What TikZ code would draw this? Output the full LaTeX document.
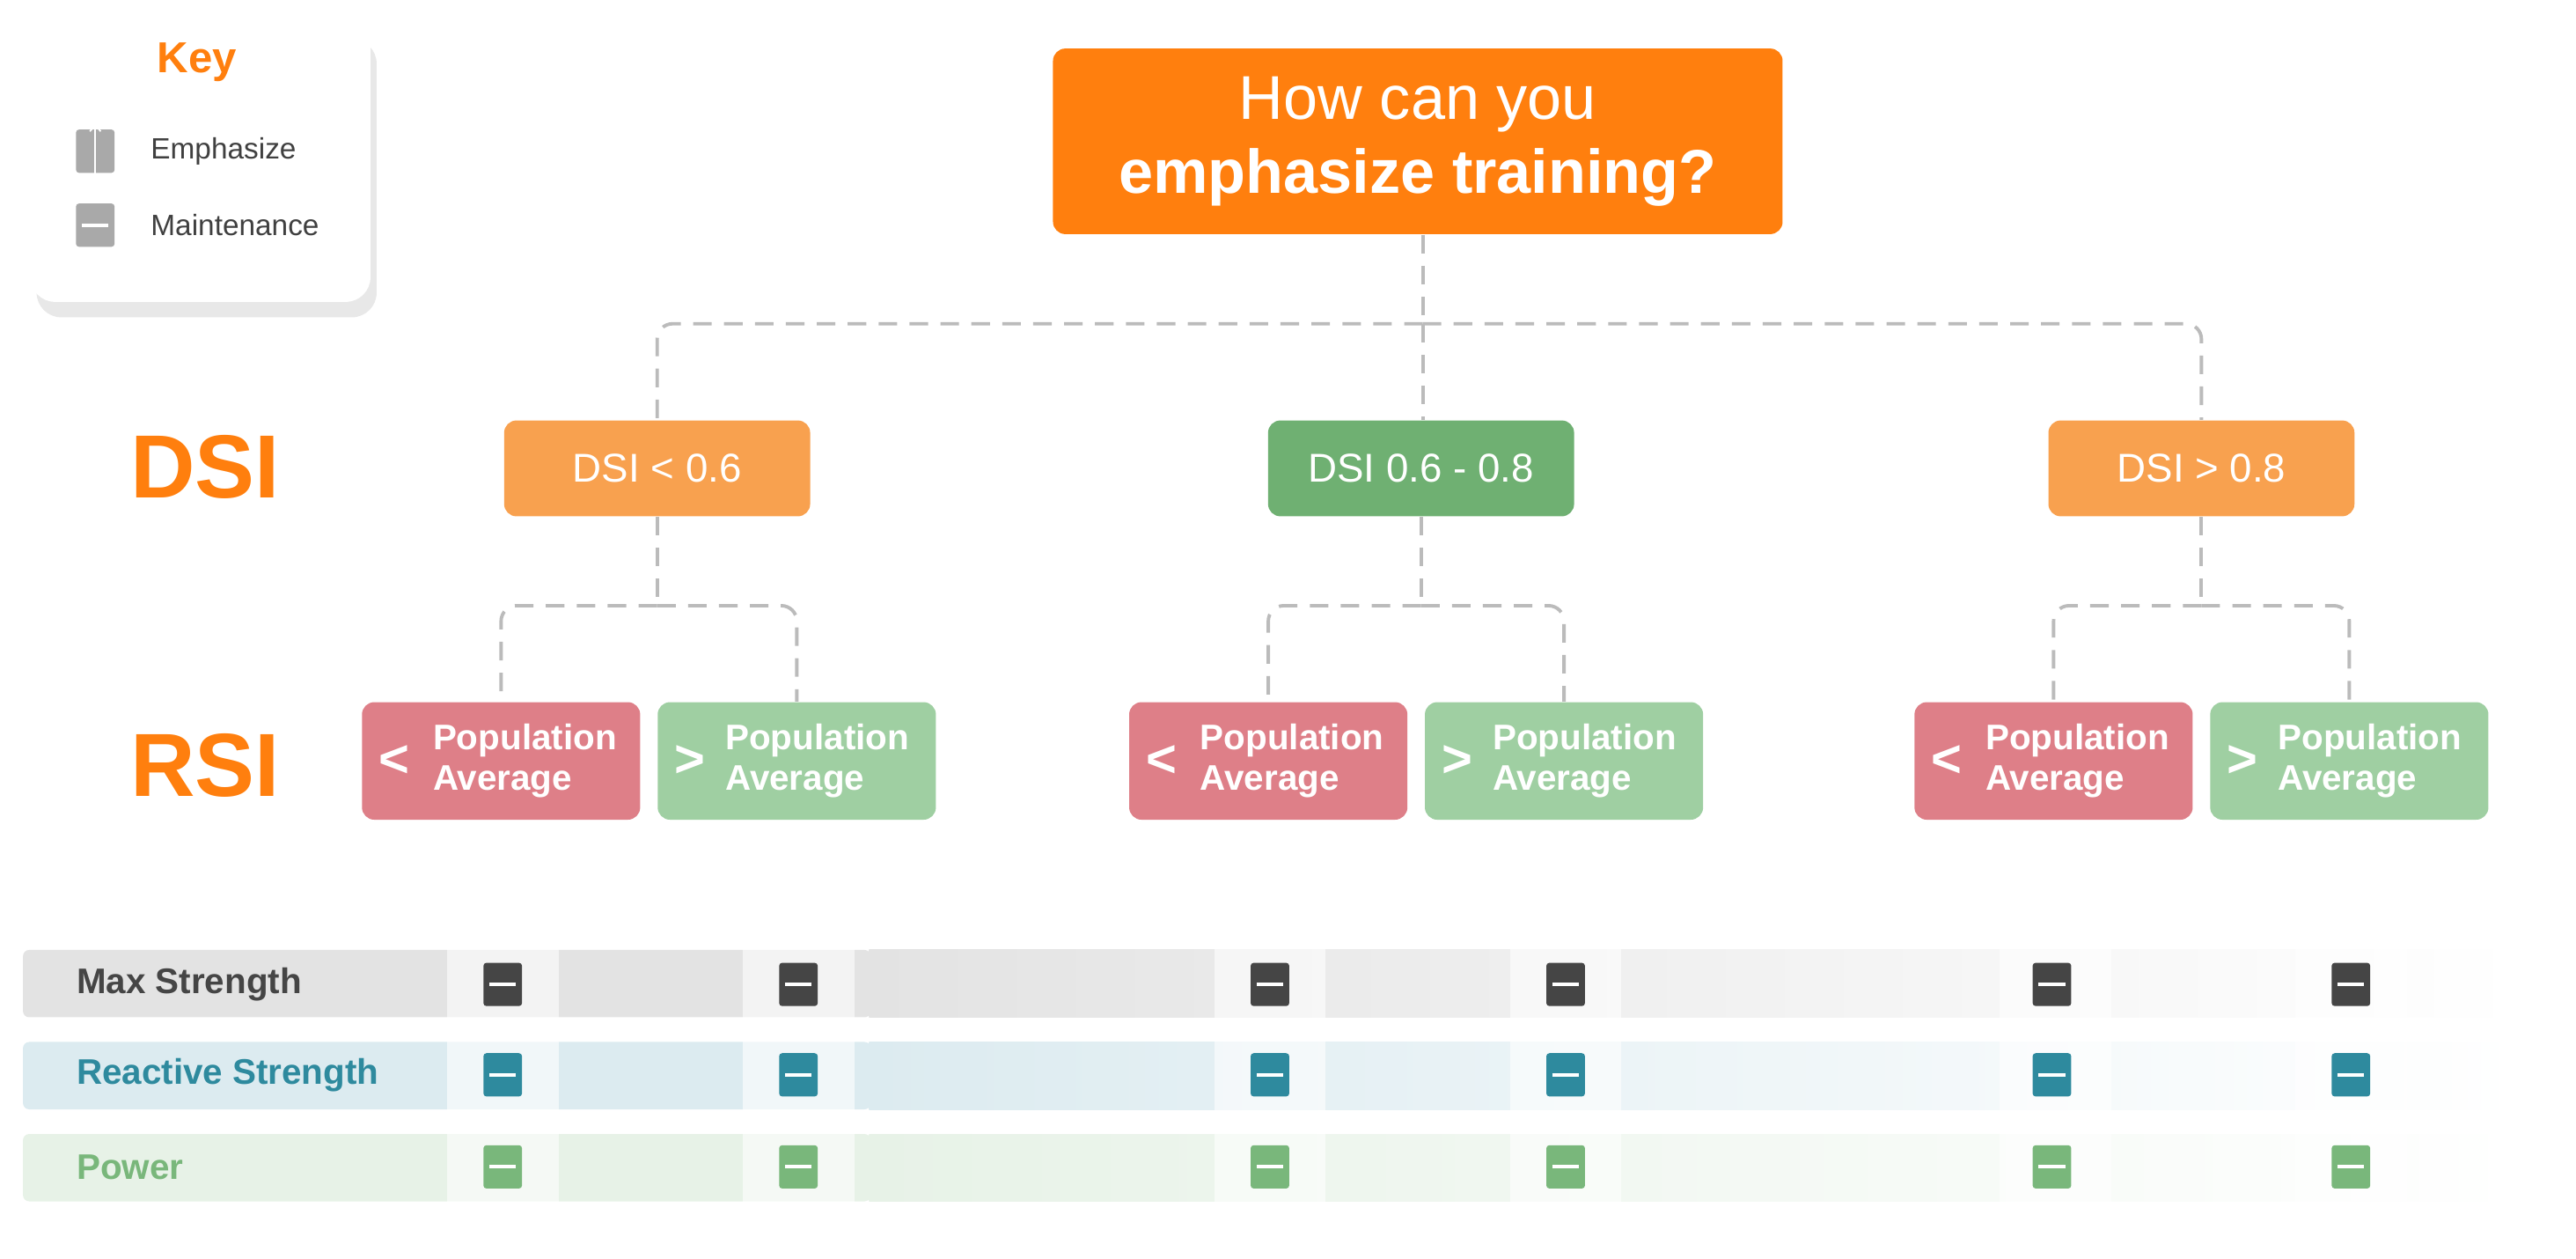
\documentclass[tikz,border=0pt]{standalone}
\usepackage{fontspec}
\setmainfont{Liberation Sans}
\usetikzlibrary{arrows.meta, positioning, shadows, calc}
\definecolor{topor}{HTML}{FF7F0E}
\definecolor{dsior}{HTML}{F8A14F}
\definecolor{dsigr}{HTML}{6FB072}
\definecolor{rsird}{HTML}{DE7F88}
\definecolor{rsigr}{HTML}{9FCFA2}
\definecolor{dashgr}{HTML}{BBBBBB}
\definecolor{icodark}{HTML}{454545}
\definecolor{icoteal}{HTML}{2E8A9E}
\definecolor{icogreen}{HTML}{79B77B}
\definecolor{icokey}{HTML}{A9A9A9}
\definecolor{rowgray}{HTML}{E3E3E3}
\definecolor{rowblue}{HTML}{DCEBF0}
\definecolor{rowgreen}{HTML}{E7F2E7}
\tikzset{%
	dsibox/.style={
		rounded corners=4pt,
		minimum width=99pt,
		minimum height=31pt,
		text=white,
		font=\fontsize{13}{15}\selectfont
	},
	rsibox/.style={
		rounded corners=4pt,
		minimum width=90pt,
		minimum height=38pt,
		text=white
	},
	linkdash/.style={
		draw=dashgr,
		line width=1.1pt,
		dash pattern=on 6pt off 4pt,
		rounded corners=5pt
	},
	icobox/.style={
		rounded corners=1pt,
		minimum width=12.5pt,
		minimum height=14pt,
		inner sep=0pt
	},
	rowlabel/.style={
		anchor=west,
		font=\fontsize{11.5}{13}\selectfont\bfseries
	},
}
% icon: name, x, y, colour, up or dash
\newcommand{\markicon}[5]{%
	\node[icobox, fill=#4] (#1) at (#2,#3) {};
	\ifx#5u
		\draw[white, line width=0.5pt, -{Straight Barb[length=2pt,width=3.5pt]}] ($(#1.south)+(0,3)$) -- ($(#1.north)+(0,-3)$);
	\else
		\draw[white, line width=1.2pt] ($(#1.west)+(4,0)$) -- ($(#1.east)+(-4,0)$);
	\fi
}
% RSI pair: prefix, x of red centre, x of green centre
\newcommand{\rsipair}[3]{%
	\node[rsibox, fill=rsird] (#1lo) at (#2,463) {};
	\node[text=white, font=\fontsize{17}{17}\selectfont\bfseries, anchor=west] at ($(#1lo.west)+(4,0)$) {<};
	\node[text=white, font=\fontsize{11.5}{13}\selectfont\bfseries, align=left, anchor=west] at ($(#1lo.west)+(37,0)$) {Population\\Average};
	\node[rsibox, fill=rsigr] (#1hi) at (#3,463) {};
	\node[text=white, font=\fontsize{17}{17}\selectfont\bfseries, anchor=west] at ($(#1hi.west)+(4,0)$) {>};
	\node[text=white, font=\fontsize{11.5}{13}\selectfont\bfseries, align=left, anchor=west] at ($(#1hi.west)+(35,0)$) {Population\\Average};
}

\begin{document}
\begin{tikzpicture}[x=0.01867cm, y=-0.01867cm]
	\useasboundingbox (0,0) rectangle (1568,766);

	% key
	\node[draw=none, fill=white, rounded corners=8pt, minimum width=110pt, minimum height=90pt,
		drop shadow={opacity=0.18, shadow xshift=2pt, shadow yshift=-5pt}] (keybox) at (122,99) {};
	\node[text=topor, font=\fontsize{14}{16}\selectfont\bfseries] (keytitle) at (120,38) {Key};
	\markicon{keyup}{58}{92}{icokey}{u}
	\markicon{keydash}{58}{137}{icokey}{d}
	\node[right=8pt of keyup, text=black!75, font=\fontsize{9.5}{11}\selectfont] {Emphasize};
	\node[right=8pt of keydash, text=black!75, font=\fontsize{9.5}{11}\selectfont] {Maintenance};

	% question
	\node[fill=topor, rounded corners=4pt, minimum width=236pt, minimum height=60pt, text=white,
		align=center, font=\fontsize{20}{24}\selectfont] (question) at (863,86)
		{How can you\\\textbf{emphasize training?}};

	% side labels
	\node[text=topor, font=\fontsize{29}{30}\selectfont\bfseries] (dsilabel) at (125,284) {DSI};
	\node[text=topor, font=\fontsize{29}{30}\selectfont\bfseries] (rsilabel) at (125,466) {RSI};

	% DSI level
	\node[dsibox, fill=dsior] (dsilow) at (400,285) {DSI < 0.6};
	\node[dsibox, fill=dsigr] (dsimid) at (865,285) {DSI 0.6 - 0.8};
	\node[dsibox, fill=dsior] (dsihigh) at (1340,285) {DSI > 0.8};

	\coordinate (qsplit) at (866,197);
	\draw[linkdash] (question.south -| qsplit) -- (qsplit);
	\draw[linkdash] (qsplit) -| (dsilow.north);
	\draw[linkdash] (qsplit) -| (dsihigh.north);
	\draw[linkdash] (qsplit) -- (dsimid.north -| qsplit);

	% RSI level
	\rsipair{low}{305}{485}
	\rsipair{mid}{772}{952}
	\rsipair{high}{1250}{1430}

	\foreach \d/\p in {dsilow/low, dsimid/mid, dsihigh/high}{
		\coordinate (\p split) at ($(\d.south)+(0,54)$);
		\draw[linkdash] (\d.south) -- (\p split);
		\draw[linkdash] (\p split) -| (\p lo.north);
		\draw[linkdash] (\p split) -| (\p hi.north);
	}

	% table rows
	\foreach \c/\yy in {rowgray/578, rowblue/634, rowgreen/690}{
		\fill[\c, rounded corners=2pt] (14,\yy) rectangle (530,\yy+41);
		\shade[left color=\c, right color=white] (529,\yy) rectangle (1535,\yy+41);
	}
	% column strips
	\foreach \cx in {306, 486, 773, 953, 1251, 1431}{
		\fill[white, opacity=0.6] (\cx-34,560) rectangle (\cx+34,755);
	}
	\node[rowlabel, text=icodark] (maxlabel) at (40,599) {Max Strength};
	\node[rowlabel, text=icoteal] (reaclabel) at (40,654) {Reactive Strength};
	\node[rowlabel, text=icogreen] (powlabel) at (40,710) {Power};

	\foreach \i/\cx/\a/\b/\c in {1/306/d/u/u, 2/486/d/d/u, 3/773/d/u/d, 4/953/u/d/u, 5/1249/u/u/d, 6/1431/u/d/d}{
		\markicon{mx\i}{\cx}{599}{icodark}{\a}
		\markicon{re\i}{\cx}{654}{icoteal}{\b}
		\markicon{pw\i}{\cx}{710}{icogreen}{\c}
	}
\end{tikzpicture}
\end{document}
